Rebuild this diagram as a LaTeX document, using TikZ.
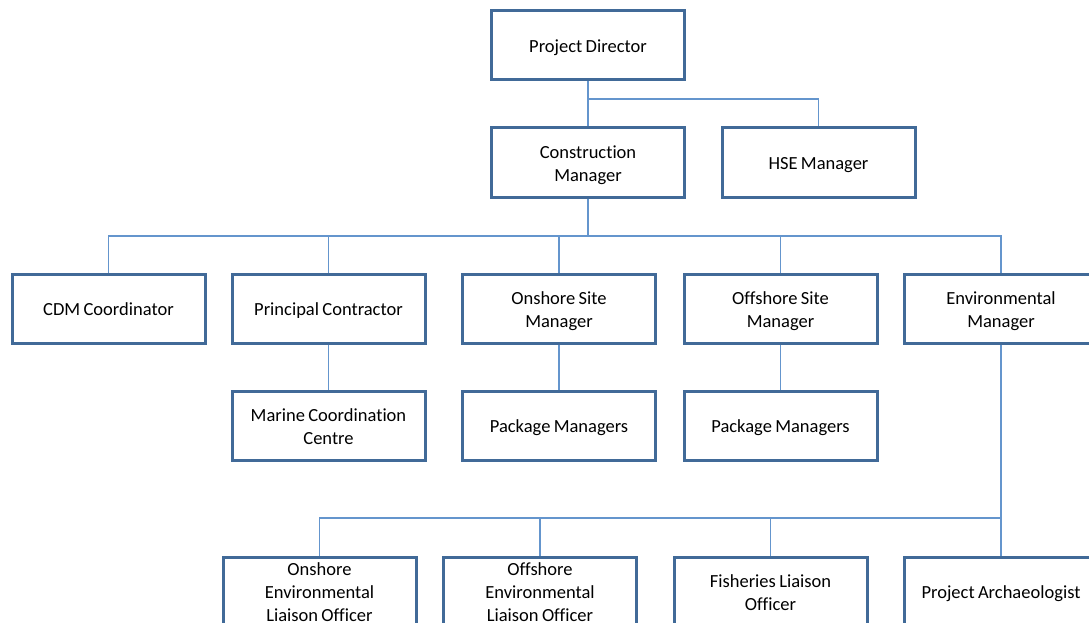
\documentclass[tikz,border=0pt]{standalone}
\usepackage{fontspec}
\setmainfont{Carlito}[Ligatures=NoCommon,WordSpace=0.8]
\definecolor{boxline}{RGB}{65,106,152}
\definecolor{conn}{RGB}{100,149,205}
\newcommand\boxtext[1]{\raisebox{-2.5pt}[\height][\depth]{\begin{tabular}{@{}c@{}}#1\end{tabular}}}
\begin{document}
\begin{tikzpicture}[x=1pt,y=-1pt,
  box/.style={draw=boxline,line width=3pt,fill=white,minimum width=193pt,minimum height=69pt,
    align=center,font=\fontsize{18.5}{23}\selectfont,inner sep=0pt},
  conn/.style={draw=conn,line width=1.4pt}]
\useasboundingbox (0,0) rectangle (1089,623);
\coordinate (b1) at (588,99);
\coordinate (b2) at (588,236);
\coordinate (b3) at (1001,518);
\node[box] (pd) at (588,45.5) {\boxtext{Project Director}};
\node[box] (cm) at (588,162.5) {\boxtext{Construction\\Manager}};
\node[box] (hse) at (818.5,162.5) {\boxtext{HSE Manager}};
\node[box] (cdm) at (108.5,308.5) {\boxtext{CDM Coordinator}};
\node[box] (pc) at (328.5,308.5) {\boxtext{Principal Contractor}};
\node[box] (osm) at (559,308.5) {\boxtext{Onshore Site\\Manager}};
\node[box] (ofm) at (780.5,308.5) {\boxtext{Offshore Site\\Manager}};
\node[box] (em) at (1001,308.5) {\boxtext{Environmental\\Manager}};
\node[box] (mcc) at (328.5,425.5) {\boxtext{Marine Coordination\\Centre}};
\node[box] (pm1) at (559,425.5) {\boxtext{Package Managers}};
\node[box] (pm2) at (780.5,425.5) {\boxtext{Package Managers}};
\node[box] (oel) at (319.5,591.5) {\boxtext{Onshore\\Environmental\\Liaison Officer}};
\node[box] (fel) at (540,591.5) {\boxtext{Offshore\\Environmental\\Liaison Officer}};
\node[box] (fl) at (770.5,591.5) {\boxtext{Fisheries Liaison\\Officer}};
\node[box] (pa) at (1001,591.5) {\boxtext{Project Archaeologist}};
\draw[conn] (pd.south) -- (cm.north);
\draw[conn] (b1) -| (hse.north);
\draw[conn] (cm.south) -- (b2);
\draw[conn] (b2) -| (cdm.north);
\draw[conn] (b2) -| (pc.north);
\draw[conn] (b2) -| (osm.north);
\draw[conn] (b2) -| (ofm.north);
\draw[conn] (b2) -| (em.north);
\draw[conn] (pc.south) -- (mcc.north);
\draw[conn] (osm.south) -- (pm1.north);
\draw[conn] (ofm.south) -- (pm2.north);
\draw[conn] (em.south) -- (pa.north);
\draw[conn] (b3) -| (oel.north);
\draw[conn] (b3) -| (fel.north);
\draw[conn] (b3) -| (fl.north);
\end{tikzpicture}
\end{document}
